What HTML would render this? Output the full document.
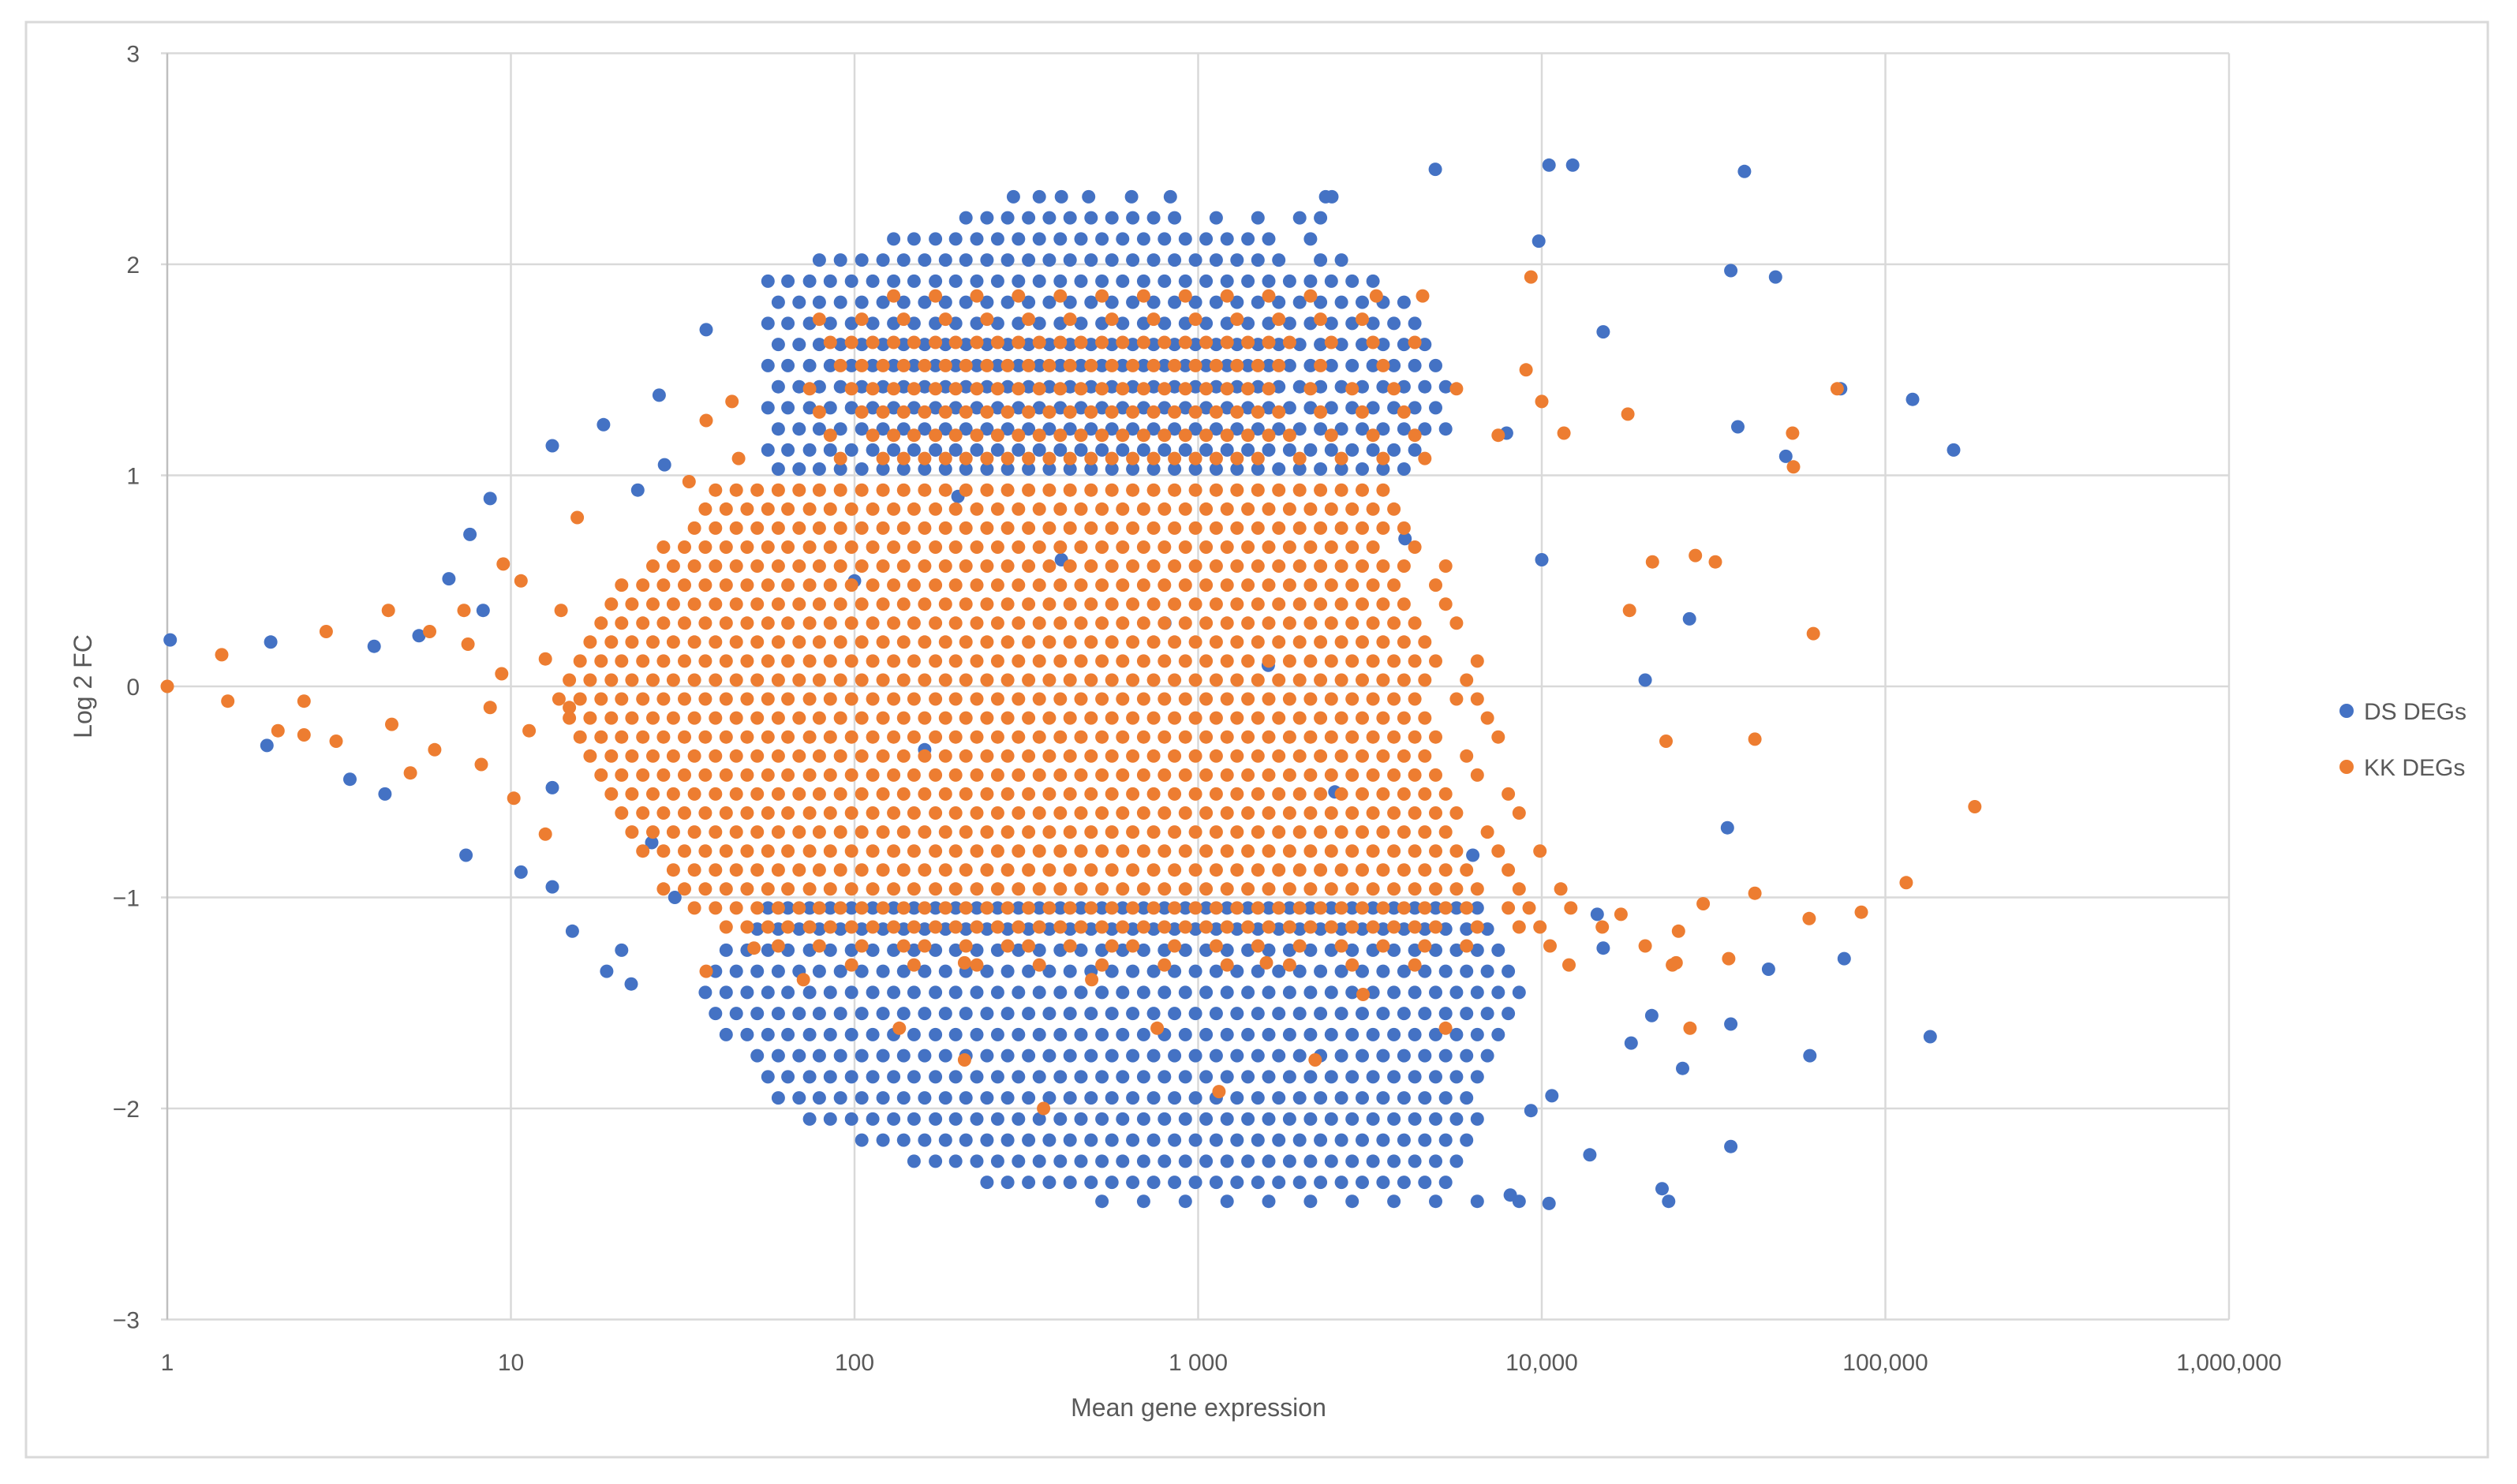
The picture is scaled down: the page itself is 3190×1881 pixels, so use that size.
<!DOCTYPE html>
<html><head><meta charset="utf-8"><title>MA plot</title>
<style>
html,body{margin:0;padding:0;background:#fff;}
svg{display:block;font-family:"Liberation Sans",Arial,sans-serif;}
</style></head>
<body>
<svg id="chart" width="3190" height="1881" viewBox="0 0 3190 1881" xmlns="http://www.w3.org/2000/svg">
<rect x="0" y="0" width="3190" height="1881" fill="#fff"/>
<rect x="33" y="28" width="3120" height="1819" fill="none" stroke="#d9d9d9" stroke-width="3"/>
<g id="grid"></g>
<g id="ticks"></g>
<g id="dsLayer"></g>
<g id="kkLayer"></g>
<text x="1519" y="1795" font-size="32" fill="#595959" text-anchor="middle">Mean gene expression</text>
<text x="0" y="0" font-size="32" fill="#595959" text-anchor="middle" transform="translate(116,870) rotate(-90)">Log 2 FC</text>
<g>
<g><circle cx="2974" cy="901" r="9" fill="#4472C4"/><text x="2996" y="912" font-size="30" fill="#595959">DS DEGs</text></g>
<g><circle cx="2974" cy="972" r="9" fill="#ED7D31"/><text x="2996" y="983" font-size="30" fill="#595959">KK DEGs</text></g>
</g>
</svg>
<script>
const xTickValues=[1,10,100,1000,10000,100000,1000000];
const xTickLabels=["1","10","100","1 000","10,000","100,000","1,000,000"];
const yTickValues=[3,2,1,0,-1,-2,-3];
const yTickLabels=["3","2","1","0","\u22121","\u22122","\u22123"];

// DS DEGs: rows of (log2FC, list of mean expression values)
const dsRowFC=[2.32,2.22,2.12,2.02,1.92,1.82,1.72,1.62,1.52,1.42,1.32,1.22,1.12,1.03,
-1.05,-1.15,-1.25,-1.35,-1.45,-1.55,-1.65,-1.75,-1.85,-1.95,-2.05,-2.15,-2.25,-2.35,-2.44];
const dsRowExpr=[
[290,345,400,480,640,830,2350,2450],
[211,243,279,321,369,424,488,561,645,742,854,1129,1493,1975,2271],
[130,149,172,197,227,261,300,345,397,456,525,603,694,798,918,1055,1214,1396,1605,2123],
[79,91,105,121,139,160,184,211,243,279,321,369,424,488,561,645,742,854,982,1129,1298,1493,1717,2271,2612],
[56,64,74,85,98,113,130,149,172,197,227,261,300,345,397,456,525,603,694,798,918,1055,1214,1396,1605,1846,2123,2441,2807,3228],
[60,69,79,91,105,121,139,160,184,211,243,279,321,369,424,488,561,645,742,854,982,1129,1298,1493,1717,1975,2271,2612,3003,3454,3972],
[56,64,74,85,98,113,130,149,172,197,227,261,300,345,397,456,525,603,694,798,918,1055,1214,1396,1605,1846,2123,2441,2807,3228,3713,4270],
[60,69,79,91,105,121,139,160,184,211,243,279,321,369,424,488,561,645,742,854,982,1129,1298,1493,1717,1975,2271,2612,3003,3454,3972,4568],
[56,64,74,85,98,113,130,149,172,197,227,261,300,345,397,456,525,603,694,798,918,1055,1214,1396,1605,1846,2123,2441,2807,3228,3713,4270,4910],
[60,69,79,91,105,121,139,160,184,211,243,279,321,369,424,488,561,645,742,854,982,1129,1298,1493,1717,1975,2271,2612,3003,3454,3972,4568,5253],
[56,64,74,85,98,113,130,149,172,197,227,261,300,345,397,456,525,603,694,798,918,1055,1214,1396,1605,1846,2123,2441,2807,3228,3713,4270,4910],
[60,69,79,91,105,121,139,160,184,211,243,279,321,369,424,488,561,645,742,854,982,1129,1298,1493,1717,1975,2271,2612,3003,3454,3972,4568,5253],
[56,64,74,85,98,113,130,149,172,197,227,261,300,345,397,456,525,603,694,798,918,1055,1214,1396,1605,1846,2123,2441,2807,3228,3713,4270],
[60,69,79,91,105,121,139,160,184,211,243,279,321,369,424,488,561,645,742,854,982,1129,1298,1493,1717,1975,2271,2612,3003,3454,3972],
[56,64,74,85,98,113,130,149,172,197,227,261,300,345,397,456,525,603,694,798,918,1055,1214,1396,1605,1846,2123,2441,2807,3228,3713,4270,4910,5647,6494],
[52.1,60,69,79,91,105,121,139,160,184,211,243,279,321,369,424,488,561,645,742,854,982,1129,1298,1493,1717,1975,2271,2612,3003,3454,3972,4568,5253,6041,6947],
[42.3,48.7,56,64,74,85,98,113,130,149,172,197,227,261,300,345,397,456,525,603,694,798,918,1055,1214,1396,1605,1846,2123,2441,2807,3228,3713,4270,4910,5647,6494,7468],
[39.4,45.3,52.1,60,69,79,91,105,121,139,160,184,211,243,279,321,369,424,488,561,645,742,854,982,1129,1298,1493,1717,1975,2271,2612,3003,3454,3972,4568,5253,6041,6947,7990],
[36.8,42.3,48.7,56,64,74,85,98,113,130,149,172,197,227,261,300,345,397,456,525,603,694,798,918,1055,1214,1396,1605,1846,2123,2441,2807,3228,3713,4270,4910,5647,6494,7468,8590],
[39.4,45.3,52.1,60,69,79,91,105,121,139,160,184,211,243,279,321,369,424,488,561,645,742,854,982,1129,1298,1493,1717,1975,2271,2612,3003,3454,3972,4568,5253,6041,6947,7990],
[42.3,48.7,56,64,74,85,98,113,130,149,172,197,227,261,300,345,397,456,525,603,694,798,918,1055,1214,1396,1605,1846,2123,2441,2807,3228,3713,4270,4910,5647,6494,7468],
[52.1,60,69,79,91,105,121,139,160,184,211,243,279,321,369,424,488,561,645,742,854,982,1129,1298,1493,1717,1975,2271,2612,3003,3454,3972,4568,5253,6041,6947],
[56,64,74,85,98,113,130,149,172,197,227,261,300,345,397,456,525,603,694,798,918,1055,1214,1396,1605,1846,2123,2441,2807,3228,3713,4270,4910,5647,6494],
[60,69,79,91,105,121,139,160,184,211,243,279,321,369,424,488,561,645,742,854,982,1129,1298,1493,1717,1975,2271,2612,3003,3454,3972,4568,5253,6041],
[74,85,98,113,130,149,172,197,227,261,300,345,397,456,525,603,694,798,918,1055,1214,1396,1605,1846,2123,2441,2807,3228,3713,4270,4910,5647,6494],
[105,121,139,160,184,211,243,279,321,369,424,488,561,645,742,854,982,1129,1298,1493,1717,1975,2271,2612,3003,3454,3972,4568,5253,6041],
[149,172,197,227,261,300,345,397,456,525,603,694,798,918,1055,1214,1396,1605,1846,2123,2441,2807,3228,3713,4270,4910,5647],
[243,279,321,369,424,488,561,645,742,854,982,1129,1298,1493,1717,1975,2271,2612,3003,3454,3972,4568,5253],
[525,694,918,1214,1605,2123,2807,3713,4910,6494,8590]
];
const dsScatter=[[1.02,0.22],[2.0,0.21],[1.95,-0.28],[3.4,-0.44],[4.3,-0.51],[4.0,0.19],[5.4,0.24],[7.4,-0.8],[10.7,-0.88],[13.2,-0.95],[15.1,-1.16],[19,-1.35],[21,-1.25],[22.4,-1.41],[8.7,0.89],[7.6,0.72],[13.2,1.14],[6.6,0.51],[27,1.38],[37,1.69],[28,1.05],[18.6,1.24],[23.4,0.93],[8.3,0.36],[13.2,-0.48],[25.7,-0.74],[30,-1.0],
[4900,2.45],[10500,2.47],[12300,2.47],[38900,2.44],[35500,1.97],[47900,1.94],[9800,2.11],[15100,1.68],[37200,1.23],[51300,1.09],[120000,1.36],[158000,1.12],[74100,1.41],[26900,0.32],[20000,0.03],[34700,-0.67],[45700,-1.34],[75900,-1.29],[60300,-1.75],[35500,-1.6],[35500,-2.18],[135000,-1.66],[22400,-2.38],[23400,-2.44],[13800,-2.22],[10500,-2.45],[8100,-2.41],[20900,-1.56],[25700,-1.81],[18200,-1.69],[14500,-1.08],[10700,-1.94],[9300,-2.01],[15100,-1.24],
[200,0.9],[400,0.6],[800,0.3],[1600,0.1],[100,0.5],[160,-0.3],[2500,-0.5],[4000,0.7],[6300,-0.8],[7900,1.2],[10000,0.6]];

// KK DEGs: rows of (log2FC, list of mean expression values)
const kkRowFC=[1.85,1.74,1.63,1.52,1.41,1.30,1.19,1.08,
0.93,0.84,0.75,0.66,0.57,0.48,0.39,0.30,0.21,0.12,0.03,-0.06,-0.15,-0.24,-0.33,-0.42,-0.51,-0.60,-0.69,-0.78,-0.87,-0.96,-1.05,-1.14,-1.23,-1.32];
const kkRowExpr=[
[130,172,227,300,397,525,694,918,1214,1605,2123,3300,4500],
[79,105,139,184,243,321,424,561,742,982,1298,1717,2271,3003],
[85,98,113,130,149,172,197,227,261,300,345,397,456,525,603,694,798,918,1055,1214,1396,1605,1846,2441,3228,4270],
[91,105,121,139,160,184,211,243,279,321,369,424,488,561,645,742,854,982,1129,1298,1493,1717,2271,3454],
[74,98,113,130,149,172,197,227,261,300,345,397,456,525,603,694,798,918,1055,1214,1396,1605,2123,2807,3713,5647],
[79,105,121,139,160,184,211,243,279,321,369,424,488,561,645,742,854,982,1129,1298,1493,1717,2271,3003,3972],
[85,113,130,149,172,197,227,261,300,345,397,456,525,603,694,798,918,1055,1214,1396,1605,1846,2441,3228,4270,7468],
[91,121,139,160,184,211,243,279,321,369,424,488,561,645,742,854,982,1129,1298,1493,1975,2612,3454,4568],
[39.4,45.3,52.1,60,69,79,91,105,121,139,160,184,211,243,279,321,369,424,488,561,645,742,854,982,1129,1298,1493,1717,1975,2271,2612,3003,3454],
[36.8,42.3,48.7,56,64,74,85,98,113,130,149,172,197,227,261,300,345,397,456,525,603,694,798,918,1055,1214,1396,1605,1846,2123,2441,2807,3228,3713],
[34.2,39.4,45.3,52.1,60,69,79,91,105,121,139,160,184,211,243,279,321,369,424,488,561,645,742,854,982,1129,1298,1493,1717,1975,2271,2612,3003,3454,3972],
[27.8,32,36.8,42.3,48.7,56,64,74,85,98,113,130,149,172,197,227,261,300,345,397,456,525,603,694,798,918,1055,1214,1396,1605,1846,2123,2441,2807,3228,4270],
[25.9,29.7,34.2,39.4,45.3,52.1,60,69,79,91,105,121,139,160,184,211,243,279,321,369,424,488,561,645,742,854,982,1129,1298,1493,1717,1975,2271,2612,3003,3454,3972,5253],
[21,24.2,27.8,32,36.8,42.3,48.7,56,64,74,85,98,113,130,149,172,197,227,261,300,345,397,456,525,603,694,798,918,1055,1214,1396,1605,1846,2123,2441,2807,3228,3713,4910],
[19.6,22.5,25.9,29.7,34.2,39.4,45.3,52.1,60,69,79,91,105,121,139,160,184,211,243,279,321,369,424,488,561,645,742,854,982,1129,1298,1493,1717,1975,2271,2612,3003,3454,3972,5253],
[18.3,21,24.2,27.8,32,36.8,42.3,48.7,56,64,74,85,98,113,130,149,172,197,227,261,300,345,397,456,525,603,694,798,918,1055,1214,1396,1605,1846,2123,2441,2807,3228,3713,4270,5647],
[17,19.6,22.5,25.9,29.7,34.2,39.4,45.3,52.1,60,69,79,91,105,121,139,160,184,211,243,279,321,369,424,488,561,645,742,854,982,1129,1298,1493,1717,1975,2271,2612,3003,3454,3972,4568],
[15.9,18.3,21,24.2,27.8,32,36.8,42.3,48.7,56,64,74,85,98,113,130,149,172,197,227,261,300,345,397,456,525,603,694,798,918,1055,1214,1396,1605,1846,2123,2441,2807,3228,3713,4270,4910,6494],
[14.8,17,19.6,22.5,25.9,29.7,34.2,39.4,45.3,52.1,60,69,79,91,105,121,139,160,184,211,243,279,321,369,424,488,561,645,742,854,982,1129,1298,1493,1717,1975,2271,2612,3003,3454,3972,4568,6041],
[13.8,15.9,18.3,21,24.2,27.8,32,36.8,42.3,48.7,56,64,74,85,98,113,130,149,172,197,227,261,300,345,397,456,525,603,694,798,918,1055,1214,1396,1605,1846,2123,2441,2807,3228,3713,4270,5647,6494],
[14.8,17,19.6,22.5,25.9,29.7,34.2,39.4,45.3,52.1,60,69,79,91,105,121,139,160,184,211,243,279,321,369,424,488,561,645,742,854,982,1129,1298,1493,1717,1975,2271,2612,3003,3454,3972,4568,6947],
[15.9,18.3,21,24.2,27.8,32,36.8,42.3,48.7,56,64,74,85,98,113,130,149,172,197,227,261,300,345,397,456,525,603,694,798,918,1055,1214,1396,1605,1846,2123,2441,2807,3228,3713,4270,4910,7468],
[17,19.6,22.5,25.9,29.7,34.2,39.4,45.3,52.1,60,69,79,91,105,121,139,160,184,211,243,279,321,369,424,488,561,645,742,854,982,1129,1298,1493,1717,1975,2271,2612,3003,3454,3972,4568,6041],
[18.3,21,24.2,27.8,32,36.8,42.3,48.7,56,64,74,85,98,113,130,149,172,197,227,261,300,345,397,456,525,603,694,798,918,1055,1214,1396,1605,1846,2123,2441,2807,3228,3713,4270,4910,6494],
[19.6,22.5,25.9,29.7,34.2,39.4,45.3,52.1,60,69,79,91,105,121,139,160,184,211,243,279,321,369,424,488,561,645,742,854,982,1129,1298,1493,1717,1975,2271,2612,3003,3454,3972,4568,5253,7990],
[21,24.2,27.8,32,36.8,42.3,48.7,56,64,74,85,98,113,130,149,172,197,227,261,300,345,397,456,525,603,694,798,918,1055,1214,1396,1605,1846,2123,2441,2807,3228,3713,4270,4910,5647,8590],
[22.5,25.9,29.7,34.2,39.4,45.3,52.1,60,69,79,91,105,121,139,160,184,211,243,279,321,369,424,488,561,645,742,854,982,1129,1298,1493,1717,1975,2271,2612,3003,3454,3972,4568,5253,6947],
[24.2,27.8,32,36.8,42.3,48.7,56,64,74,85,98,113,130,149,172,197,227,261,300,345,397,456,525,603,694,798,918,1055,1214,1396,1605,1846,2123,2441,2807,3228,3713,4270,4910,5647,7468,9880],
[29.7,34.2,39.4,45.3,52.1,60,69,79,91,105,121,139,160,184,211,243,279,321,369,424,488,561,645,742,854,982,1129,1298,1493,1717,1975,2271,2612,3003,3454,3972,4568,5253,6041,7990],
[27.8,32,36.8,42.3,48.7,56,64,74,85,98,113,130,149,172,197,227,261,300,345,397,456,525,603,694,798,918,1055,1214,1396,1605,1846,2123,2441,2807,3228,3713,4270,4910,5647,6494,8590,11360],
[34.2,39.4,45.3,52.1,60,69,79,91,105,121,139,160,184,211,243,279,321,369,424,488,561,645,742,854,982,1129,1298,1493,1717,1975,2271,2612,3003,3454,3972,4568,5253,6041,7990,9190,12150],
[42.3,48.7,56,64,74,85,98,113,130,149,172,197,227,261,300,345,397,456,525,603,694,798,918,1055,1214,1396,1605,1846,2123,2441,2807,3228,3713,4270,4910,6494,8590,9880,15000],
[60,79,105,139,160,211,279,321,424,561,645,854,1129,1493,1975,2612,3454,4568,6041,10570,20000],
[98,149,227,345,525,798,1214,1846,2807,4270,12000,24000]
];
const kkScatter=[[1,0],[1.44,0.15],[1.5,-0.07],[2.5,-0.07],[2.9,0.26],[2.5,-0.23],[2.1,-0.21],[3.1,-0.26],[4.4,0.36],[4.5,-0.18],[5.1,-0.41],[6,-0.3],[5.8,0.26],[7.3,0.36],[7.5,0.2],[8.2,-0.37],[9.4,0.06],[9.5,0.58],[10.7,0.5],[8.7,-0.1],[10.2,-0.53],[11.3,-0.21],[12.6,0.13],[12.6,-0.7],[14.8,-0.1],[14,0.36],[15.6,0.8],
[72400,1.41],[53700,1.2],[54000,1.04],[61700,0.25],[41700,-0.25],[115000,-0.93],[85100,-1.07],[60000,-1.1],[182000,-0.57],[41700,-0.98],[29500,-1.03],[25000,-1.16],[35000,-1.29],[24600,-1.31],[27000,-1.62],[32000,0.59],[28000,0.62],[21000,0.59],[18000,0.36],[23000,-0.26],[17000,-1.08],[17800,1.29],[9300,1.94],[9000,1.5],[10000,1.35],[11600,1.2],
[71,-1.39],[135,-1.62],[209,-1.77],[355,-2.0],[490,-1.39],[760,-1.62],[1580,-1.31],[3020,-1.46],[5250,-1.62],[1150,-1.92],[209,-1.31],[37,-1.35],[51,-1.24],[2190,-1.77],
[37,1.26],[44,1.35],[46,1.08],[33,0.97]];

const NS="http://www.w3.org/2000/svg";
const X0=212, DEC=435.5, Y0=870, UNIT=267.5;
function xScale(v){return X0+Math.log10(v)*DEC;}
function yScale(v){return Y0-v*UNIT;}

const grid=document.getElementById('grid');
const ticks=document.getElementById('ticks');
yTickValues.forEach((v,i)=>{
  const l=document.createElementNS(NS,'line');
  
  
  l.setAttribute('x1',xScale(1)-8);l.setAttribute('x2',xScale(1000000));
  l.setAttribute('y1',yScale(v));l.setAttribute('y2',yScale(v));
  l.setAttribute('stroke','#d9d9d9');l.setAttribute('stroke-width','2.5');
  grid.appendChild(l);
  const t=document.createElementNS(NS,'text');
  
  
  t.setAttribute('x',177);t.setAttribute('y',yScale(v)+11);
  t.setAttribute('text-anchor','end');t.setAttribute('font-size','30');t.setAttribute('fill','#595959');
  t.textContent=yTickLabels[i];
  ticks.appendChild(t);
});
xTickValues.forEach((v,i)=>{
  const l=document.createElementNS(NS,'line');
  
  
  l.setAttribute('x1',xScale(v));l.setAttribute('x2',xScale(v));
  l.setAttribute('y1',yScale(3));l.setAttribute('y2',yScale(-3));
  l.setAttribute('stroke',i===0?'#bfbfbf':'#d9d9d9');l.setAttribute('stroke-width','2.5');
  grid.appendChild(l);
  const t=document.createElementNS(NS,'text');
  
  
  t.setAttribute('x',xScale(v));t.setAttribute('y',1737);
  t.setAttribute('text-anchor','middle');t.setAttribute('font-size','30');t.setAttribute('fill','#595959');
  t.textContent=xTickLabels[i];
  ticks.appendChild(t);
});

function dot(layer,x,y,color,name){
  const c=document.createElementNS(NS,'circle');
  
  
  c.setAttribute('cx',xScale(x).toFixed(1));
  c.setAttribute('cy',yScale(y).toFixed(1));
  c.setAttribute('r','8.5');
  c.setAttribute('fill',color);
  layer.appendChild(c);
}
const ds=document.getElementById('dsLayer');
dsRowFC.forEach((fc,i)=>dsRowExpr[i].forEach(x=>dot(ds,x,fc,'#4472C4','ds-point')));
dsScatter.forEach(p=>dot(ds,p[0],p[1],'#4472C4','ds-point'));
const kk=document.getElementById('kkLayer');
kkRowFC.forEach((fc,i)=>kkRowExpr[i].forEach(x=>dot(kk,x,fc,'#ED7D31','kk-point')));
kkScatter.forEach(p=>dot(kk,p[0],p[1],'#ED7D31','kk-point'));
</script>
</body></html>
